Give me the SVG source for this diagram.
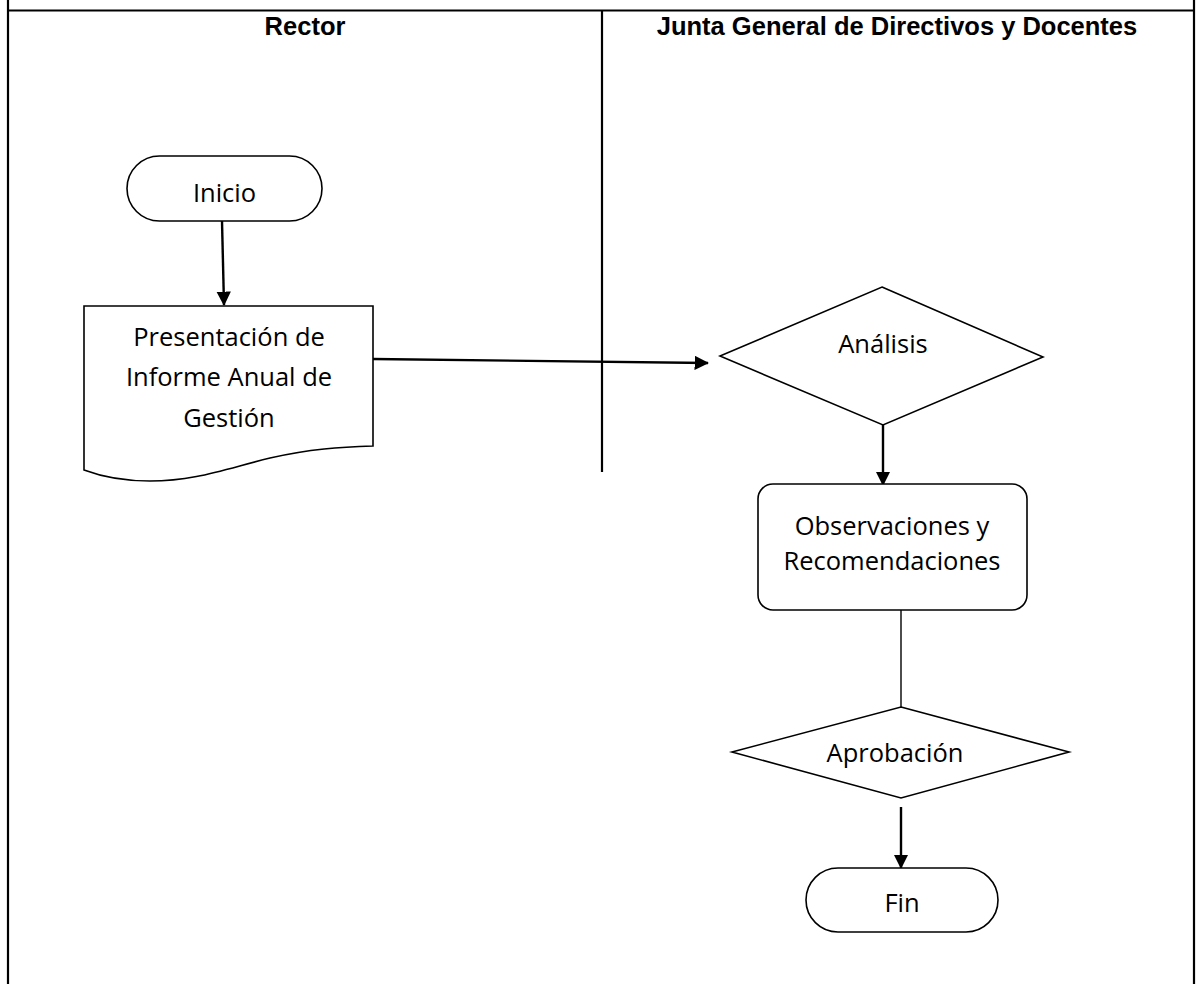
<svg xmlns="http://www.w3.org/2000/svg" width="1196" height="984" viewBox="0 0 1196 984">
<style>
.frame{stroke:#000;stroke-width:2.2;fill:none}
.shape{stroke:#000;stroke-width:1.6;fill:#fff}
.conn{stroke:#000;stroke-width:2.4;fill:none}
.plain{stroke:#000;stroke-width:1.4;fill:none}
.hdr{font-family:"Liberation Sans",Arial,sans-serif;font-weight:bold;font-size:25.5px;text-anchor:middle;fill:#000}
.lbl{font-family:"Open Sans","Noto Sans",sans-serif;font-size:25.5px;text-anchor:middle;fill:#000}
</style>
<defs>
<marker id="ah" markerWidth="6" markerHeight="6" refX="5.6" refY="3" orient="auto" markerUnits="strokeWidth">
<path d="M0,0 L6,3 L0,6 Z" fill="#000"/>
</marker>
</defs>
<rect width="1196" height="984" fill="#fff"/>
<g id="lanes">
<line class="frame" x1="8" y1="0" x2="8" y2="984"/>
<line class="frame" x1="1194" y1="0" x2="1194" y2="984"/>
<line class="frame" x1="8" y1="10.5" x2="1194" y2="10.5"/>
<line class="frame" x1="602" y1="10.5" x2="602" y2="472"/>
<text class="hdr" x="305" y="35">Rector</text>
<text class="hdr" x="897" y="35">Junta General de Directivos y Docentes</text>
</g>
<g id="connectors">
<line class="conn" x1="222" y1="221" x2="224" y2="305" marker-end="url(#ah)"/>
<line class="conn" x1="373" y1="359" x2="708" y2="363" marker-end="url(#ah)"/>
<line class="conn" x1="883" y1="425" x2="883" y2="485" marker-end="url(#ah)"/>
<line class="plain" x1="901" y1="610" x2="901" y2="707"/>
<line class="conn" x1="901" y1="807" x2="901" y2="868" marker-end="url(#ah)"/>
</g>
<g id="inicio">
<rect class="shape" x="127" y="156" width="195" height="65" rx="32.5"/>
<text class="lbl" x="224.5" y="202">Inicio</text>
</g>
<g id="presentacion">
<path class="shape" d="M84,306 L373,306 L373,446 C340,447 310,449 270,458 C225,469 195,481 150,481 C120,481 100,476 84,470 Z"/>
<text class="lbl" x="229" y="346">Presentación de</text>
<text class="lbl" x="229" y="386">Informe Anual de</text>
<text class="lbl" x="229" y="427">Gestión</text>
</g>
<g id="analisis">
<polygon class="shape" points="882,287 1043,357 883,425 720,356"/>
<text class="lbl" x="883" y="353">Análisis</text>
</g>
<g id="observaciones">
<rect class="shape" x="758" y="484" width="269" height="126" rx="15"/>
<text class="lbl" x="892" y="535">Observaciones y</text>
<text class="lbl" x="892" y="570">Recomendaciones</text>
</g>
<g id="aprobacion">
<polygon class="shape" points="901,707 1069,752 901,798 732,752"/>
<text class="lbl" x="895" y="762">Aprobación</text>
</g>
<g id="fin">
<rect class="shape" x="806" y="868" width="192" height="64" rx="32"/>
<text class="lbl" x="902" y="912">Fin</text>
</g>
</svg>
